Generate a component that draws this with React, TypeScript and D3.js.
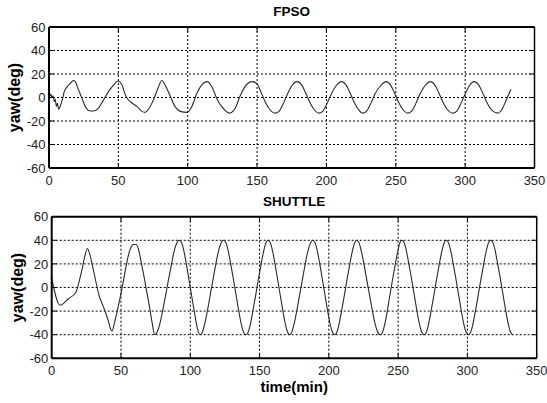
import React from "react";
import * as d3 from "d3";

// FPSO yaw record: [time (min), yaw (deg)]
const fpsoYaw: [number, number][] = [
  [0, 5], [0.6, 1], [1.2, 3], [2, 0.5], [3, 1.5], [3.8, -3.5], [4.5, -1.5], [5.3, -7.5],
  [6.1, -5], [6.9, -10], [8.1, -7.5], [9.3, -3], [10.2, 1], [11, 5], [13, 9], [15.3, 12],
  [17.7, 14.5], [18.9, 13.5], [21.3, 6.5], [23.7, -0.5], [26.1, -7.5], [28.5, -11],
  [32, -11.5], [35.7, -9], [39.3, -2], [42.9, 5], [46.5, 10.5], [49.7, 14], [52.5, 11],
  [54.5, 4], [56.2, -0.5], [59.8, -4.7], [63.4, -7.6], [67, -11.8], [69.3, -12.7],
  [71.7, -10], [75.3, -2], [78.9, 9], [81.3, 14.5], [84, 10], [87.3, 1.5], [91, -8],
  [94.6, -11.8], [99.4, -12.7], [103, -7.7], [106.6, 3.6], [110.3, 11], [113.9, 13.5],
  [117.5, 9], [121, -1], [124.7, -8], [130.2, -13.3], [134.3, -9], [138, 2], [142.8, 11.5],
  [146.8, 13.5], [150, 11.5], [153, 4], [156, -4], [159, -10], [163, -13.3], [166, -11.5],
  [169, -5], [172, 3], [175, 10], [179, 13.5], [182, 11], [185, 4], [188, -4], [191, -10],
  [194.5, -13.3], [197.5, -11.5], [200.5, -5], [203.5, 3], [207, 10], [211, 13.5],
  [214, 11], [217, 4], [220, -4], [223, -10], [226, -13.3], [229, -11.5], [232, -5],
  [235, 3], [239, 10], [243, 13.5], [246, 11], [249, 4], [252, -4], [255, -10],
  [258.5, -13.3], [261.5, -11.5], [264.5, -5], [267.5, 3], [271, 10], [275, 13.5],
  [278, 11], [281, 4], [284, -4], [287, -10], [291, -13.3], [294, -11.5], [297, -5],
  [300, 3], [303, 10], [306.6, 13.5], [309.6, 11], [312.6, 4], [315.6, -4], [318.6, -10],
  [323.6, -13.3], [326.6, -10], [330, -1], [333, 7],
];

// Shuttle yaw record: [time (min), yaw (deg)]
const shuttleYaw: [number, number][] = [
  [0, 8], [6, -15], [12, -9.5], [17.5, -4], [20, 6], [22, 16], [24, 27], [25.8, 33],
  [27.5, 28], [29.5, 18], [31.5, 7], [34.5, -8], [36.5, -14], [38.5, -20], [40.5, -27],
  [43.5, -37], [45.5, -29], [47.5, -19], [49.5, -8], [51.5, 4], [53.5, 17], [55.5, 28],
  [57.5, 35], [59, 36.5], [61, 36.5], [62.5, 33], [64.5, 22], [66.5, 10], [68.5, -3],
  [70.5, -16], [72.5, -30], [74.3, -40],
  [76, -38], [78, -31], [80, -20], [82, -8], [84, 5], [86, 17], [88, 29], [90, 37], [92, 40],
  [93.5, 38.5], [95, 33], [97, 21], [99, 7], [101, -7], [103, -21], [105, -34], [107, -40],
  [108.5, -38.5], [110, -33], [112, -22], [114, -9], [116, 4], [118, 17], [120, 29],
  [122, 37], [124, 40],
  [125.5, 38.5], [127, 33], [129, 21], [131, 8], [133, -6], [135, -20], [137, -32],
  [138.5, -38], [140, -40],
  [141.5, -38.5], [143, -33], [145, -21], [147, -8], [149, 6], [151, 19], [153, 31],
  [154.5, 37.5], [156, 40],
  [157.5, 38.5], [159, 33], [161, 21], [163, 7], [165, -7], [167, -21], [169, -33],
  [170.3, -38], [171.5, -40],
  [173, -38.5], [174.5, -33], [176.5, -22], [178.5, -9], [180.5, 4], [182.5, 17],
  [184.5, 29], [186.5, 37], [188.3, 40],
  [189.8, 38.5], [191.3, 33], [193.3, 21], [195.3, 7], [197.3, -7], [199.3, -21],
  [201.3, -33], [202.7, -38], [204, -40],
  [205.5, -38.5], [207, -33], [209, -21], [211, -8], [213, 6], [215, 19], [217, 31],
  [218.5, 37.5], [220, 40],
  [221.5, 38.5], [223, 33], [225, 22], [227, 9], [229, -4], [231, -17], [233, -29],
  [235, -37], [237, -40],
  [238.5, -38.5], [240, -33], [242, -21], [244, -7], [246, 7], [248, 20], [250, 32],
  [251.3, 38], [252.6, 40],
  [254.1, 38.5], [255.6, 33], [257.6, 21], [259.6, 8], [261.6, -6], [263.6, -20],
  [265.6, -32], [267.1, -38], [268.6, -40],
  [270.1, -38.5], [271.6, -33], [273.6, -21], [275.6, -8], [277.6, 6], [279.6, 19],
  [281.6, 31], [283.1, 37.5], [284.6, 40],
  [286.1, 38.5], [287.6, 33], [289.6, 21], [291.6, 8], [293.6, -6], [295.6, -20],
  [297.6, -32], [299.1, -38], [300.6, -40],
  [302.1, -38.5], [303.6, -33], [305.6, -21], [307.6, -8], [309.6, 6], [311.6, 19],
  [313.6, 31], [315.1, 37.5], [316.7, 40],
  [318.2, 38.5], [319.7, 33], [321.7, 21], [323.7, 8], [325.7, -6], [327.7, -20],
  [329.7, -32], [331.2, -38], [332.6, -40],
];

const xTicks = [0, 50, 100, 150, 200, 250, 300, 350];
const yTicks = [-60, -40, -20, 0, 20, 40, 60];
const panelTitles = ["FPSO", "SHUTTLE"];
const yLabel = "yaw(deg)";
const xLabel = "time(min)";

const W = 547;
const H = 403;
const FONT = "Arial, 'Liberation Sans', Helvetica, sans-serif";

type Box = { left: number; right: number; top: number; bottom: number };

const panels: { box: Box; data: [number, number][]; title: string; xTitle?: string }[] = [
  { box: { left: 49, right: 534.5, top: 27, bottom: 168 }, data: fpsoYaw, title: panelTitles[0] },
  {
    box: { left: 51.7, right: 536.7, top: 216.7, bottom: 358.3 },
    data: shuttleYaw,
    title: panelTitles[1],
    xTitle: xLabel,
  },
];

function Panel({ box, data, title, xTitle }: { box: Box; data: [number, number][]; title: string; xTitle?: string }) {
  const x = d3.scaleLinear().domain([0, 350]).range([box.left, box.right]);
  const y = d3.scaleLinear().domain([-60, 60]).range([box.bottom, box.top]);
  const line = d3
    .line<[number, number]>()
    .x((d) => x(d[0]))
    .y((d) => y(d[1]))
    .curve(d3.curveMonotoneX);
  const tickLen = 5;
  const cx = (box.left + box.right) / 2;
  const cy = (box.top + box.bottom) / 2;
  return (
    <g>
      {/* dotted grid */}
      {xTicks.slice(1, -1).map((t) => (
        <line key={"gx" + t} x1={x(t)} x2={x(t)} y1={box.top} y2={box.bottom} stroke="#000" strokeWidth={1} strokeDasharray="2,2" />
      ))}
      {yTicks.slice(1, -1).map((t) => (
        <line key={"gy" + t} x1={box.left} x2={box.right} y1={y(t)} y2={y(t)} stroke="#000" strokeWidth={1} strokeDasharray="2,2" />
      ))}
      {/* inward ticks on all four sides */}
      {xTicks.map((t) => (
        <g key={"tx" + t}>
          <line x1={x(t)} x2={x(t)} y1={box.bottom} y2={box.bottom - tickLen} stroke="#000" />
          <line x1={x(t)} x2={x(t)} y1={box.top} y2={box.top + tickLen} stroke="#000" />
        </g>
      ))}
      {yTicks.map((t) => (
        <g key={"ty" + t}>
          <line x1={box.left} x2={box.left + tickLen} y1={y(t)} y2={y(t)} stroke="#000" />
          <line x1={box.right} x2={box.right - tickLen} y1={y(t)} y2={y(t)} stroke="#000" />
        </g>
      ))}
      {/* series */}
      <path d={line(data) ?? ""} fill="none" stroke="#2a2a2a" strokeWidth={1.1} />
      {/* axes box */}
      <line x1={box.left} x2={box.right} y1={box.top} y2={box.top} stroke="#000" strokeWidth={2} />
      <line x1={box.left} x2={box.right} y1={box.bottom} y2={box.bottom} stroke="#000" strokeWidth={2} />
      <line x1={box.left} x2={box.left} y1={box.top} y2={box.bottom} stroke="#000" strokeWidth={2} />
      <line x1={box.right} x2={box.right} y1={box.top} y2={box.bottom} stroke="#000" strokeWidth={1.5} />
      {/* tick labels */}
      {xTicks.map((t) => (
        <text key={"lx" + t} x={x(t)} y={box.bottom + 17} textAnchor="middle" fontSize={13} fill="#222" fontFamily={FONT}>
          {t}
        </text>
      ))}
      {yTicks.map((t) => (
        <text key={"ly" + t} x={box.left - 3.5} y={y(t)} dy="0.36em" textAnchor="end" fontSize={13} fill="#222" fontFamily={FONT}>
          {t}
        </text>
      ))}
      {/* titles */}
      <text x={cx} y={box.top - 11} textAnchor="middle" fontSize={13.5} fontWeight="bold" fill="#000" fontFamily={FONT}>
        {title}
      </text>
      <text
        transform={`translate(${box.left - 29},${cy}) rotate(-90)`}
        textAnchor="middle"
        fontSize={16}
        fontWeight="bold"
        fill="#000"
        fontFamily={FONT}
      >
        {yLabel}
      </text>
      {xTitle && (
        <text x={cx} y={box.bottom + 34} textAnchor="middle" fontSize={15} fontWeight="bold" fill="#000" fontFamily={FONT}>
          {xTitle}
        </text>
      )}
    </g>
  );
}

export default function App() {
  return (
    <svg
      width={W}
      height={H}
      viewBox={`0 0 ${W} ${H}`}
      style={{ position: "absolute", left: 0, top: 0, background: "#fff" }}
    >
      <rect x={0} y={0} width={W} height={H} fill="#fff" />
      {panels.map((p, i) => (
        <Panel key={i} {...p} />
      ))}
    </svg>
  );
}
